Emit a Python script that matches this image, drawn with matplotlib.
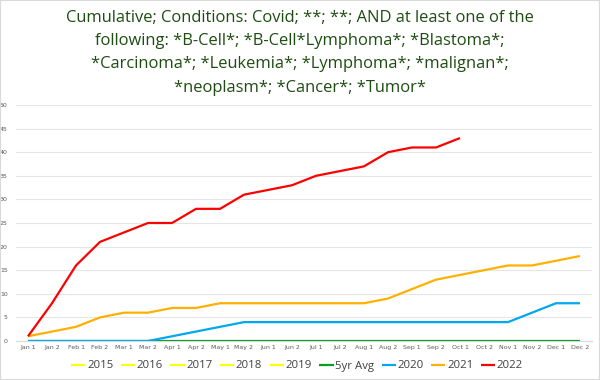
import matplotlib
matplotlib.use("Agg")
import matplotlib.pyplot as plt
import numpy as np
from matplotlib.patches import Rectangle

categories = ["Jan 1", "Jan 2", "Feb 1", "Feb 2", "Mar 1", "Mar 2", "Apr 1", "Apr 2",
              "May 1", "May 2", "Jun 1", "Jun 2", "Jul 1", "Jul 2", "Aug 1", "Aug 2",
              "Sep 1", "Sep 2", "Oct 1", "Oct 2", "Nov 1", "Nov 2", "Dec 1", "Dec 2"]

s2015 = [None] * 24
s2016 = [None] * 24
s2017 = [None] * 24
s2018 = [None] * 24
s2019 = [None] * 24
avg5 = [0] * 24
s2020 = [0, 0, 0, 0, 0, 0, 1, 2, 3, 4, 4, 4, 4, 4, 4, 4, 4, 4, 4, 4, 4, 6, 8, 8]
s2021 = [1, 2, 3, 5, 6, 6, 7, 7, 8, 8, 8, 8, 8, 8, 8, 9, 11, 13, 14, 15, 16, 16, 17, 18]
s2022 = [1, 8, 16, 21, 23, 25, 25, 28, 28, 31, 32, 33, 35, 36, 37, 40, 41, 41, 43]

series = [("2015", s2015, "#ffff00"), ("2016", s2016, "#ffff00"), ("2017", s2017, "#ffff00"),
          ("2018", s2018, "#ffff00"), ("2019", s2019, "#ffff00"), ("5yr Avg", avg5, "#00a020"),
          ("2020", s2020, "#00a8f0"), ("2021", s2021, "#ffb000"), ("2022", s2022, "#ff0000")]

title = ("Cumulative; Conditions: Covid; **; **; AND at least one of the\n"
         "following: *B-Cell*; *B-Cell*Lymphoma*; *Blastoma*;\n"
         "*Carcinoma*; *Leukemia*; *Lymphoma*; *malignan*;\n"
         "*neoplasm*; *Cancer*; *Tumor*")

fig = plt.figure(figsize=(6, 3.8), dpi=100)
fig.patches.append(Rectangle((0, 0), 1, 1, transform=fig.transFigure, fill=False,
                             edgecolor="#d9d9d9", linewidth=1.5))
ax = fig.add_axes([16/600, 1-341/380, 576/600, 236/380])

x = np.arange(len(categories))
for name, vals, col in series:
    v = np.array([np.nan if a is None else a for a in vals], dtype=float)
    ax.plot(x[:len(v)], v, color=col, linewidth=1.6, label=name, solid_capstyle="butt")

ax.set_xlim(-0.5, len(categories) - 0.5)
ax.set_ylim(0, 50)
ax.set_yticks(range(0, 51, 5))
ax.set_xticks(x)
ax.set_xticklabels(categories)
ax.tick_params(axis="both", labelsize=4.5, colors="#595959", length=0, pad=3)
ax.tick_params(axis="y", pad=6)
ax.yaxis.grid(True, color="#e6e6e6", linewidth=0.8)
ax.set_axisbelow(True)
for s in ax.spines.values():
    s.set_visible(False)
ax.spines["bottom"].set_visible(True)
ax.spines["bottom"].set_color("#d9d9d9")

fig.text(0.5, 1-10/380, title, ha="center", va="top", fontsize=11.9, color="#1e4d12",
         family="Open Sans", linespacing=1.6)

leg = fig.legend(loc="center", bbox_to_anchor=(0.495, 1-366/380), ncol=9, frameon=False,
                 handlelength=1.25, handletextpad=0.15, columnspacing=0.65,
                 prop={"family": "Open Sans", "size": 8.2})
for t in leg.get_texts():
    t.set_color("#404040")

fig.savefig("out.png", dpi=100)
